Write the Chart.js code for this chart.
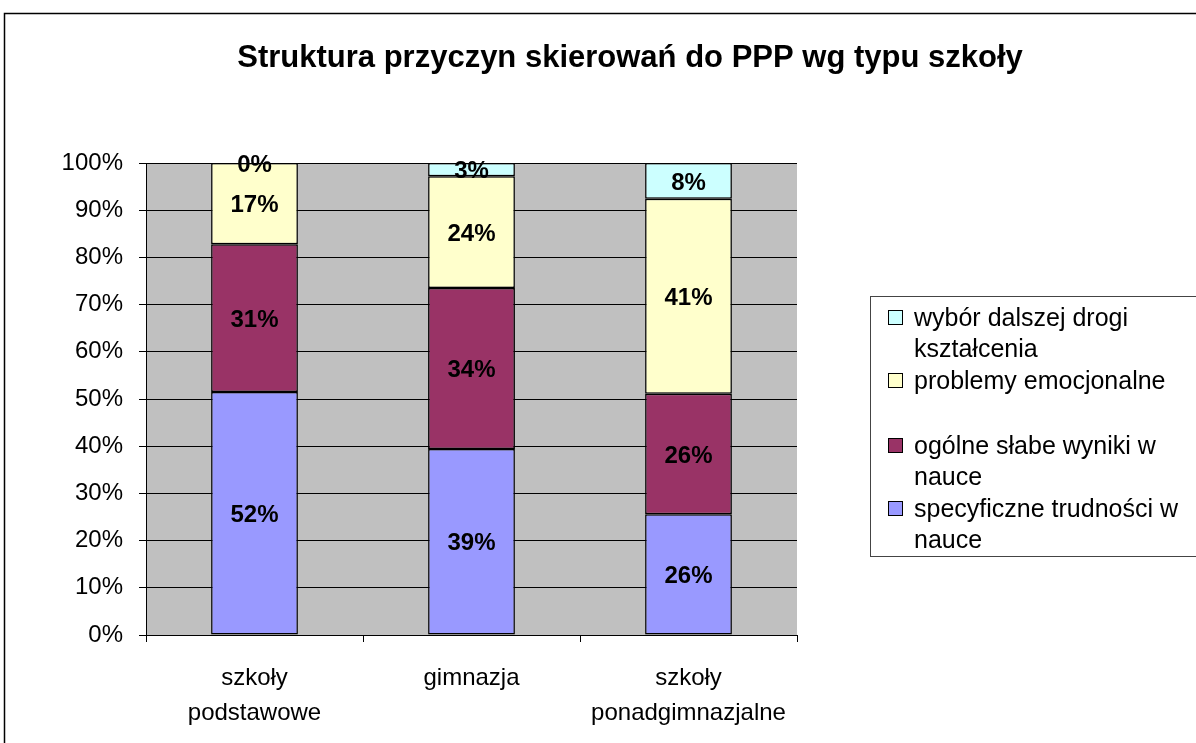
<!DOCTYPE html>
<html>
<head>
<meta charset="utf-8">
<script src="https://cdn.jsdelivr.net/npm/chart.js@4.4.1/dist/chart.umd.min.js"></script>
<style>
  html, body { margin: 0; padding: 0; background: #fff; }
  #wrap { width: 1196px; height: 743px; position: relative; }
</style>
</head>
<body>
<div id="wrap"><canvas id="chart" width="1196" height="743"></canvas></div>
<script>
var categories = [["szkoły", "podstawowe"], "gimnazja", ["szkoły", "ponadgimnazjalne"]];
var specyficzne = [51.5, 39.4, 25.6];
var ogolne = [31.3, 34.1, 25.5];
var emocjonalne = [17.2, 23.7, 41.3];
var wybor = [0, 2.8, 7.6];
var yTicks = [0, 10, 20, 30, 40, 50, 60, 70, 80, 90, 100];
var titleText = "Struktura przyczyn skierowań do PPP wg typu szkoły";

var FONT = "Arial, 'Liberation Sans', sans-serif";

// frame, title, value labels and the boxed legend
var decorPlugin = {
    id: 'decor',
    beforeDraw: function (chart) {
        var a = chart.chartArea;
        var ctx = chart.ctx;
        ctx.save();
        ctx.fillStyle = '#c0c0c0';
        ctx.fillRect(a.left, a.top, a.right - a.left, a.bottom - a.top);
        ctx.restore();
    },
    afterDatasetsDraw: function (chart) {
        var ctx = chart.ctx;
        ctx.save();
        ctx.fillStyle = '#000';
        ctx.font = 'bold 24px ' + FONT;
        ctx.textAlign = 'center';
        ctx.textBaseline = 'middle';
        chart.data.datasets.forEach(function (ds, i) {
            var meta = chart.getDatasetMeta(i);
            meta.data.forEach(function (bar, j) {
                var y = (bar.y + bar.base) / 2;
                ctx.fillText(Math.round(ds.data[j]) + '%', bar.x, y + 2);
            });
        });
        ctx.restore();
    },
    afterDraw: function (chart) {
        var ctx = chart.ctx;
        ctx.save();
        // outer frame
        ctx.strokeStyle = '#000';
        ctx.lineWidth = 1.5;
        ctx.strokeRect(4.5, 13.5, 1400, 1000);
        // title
        ctx.fillStyle = '#000';
        ctx.font = 'bold 31px ' + FONT;
        ctx.textAlign = 'center';
        ctx.textBaseline = 'middle';
        ctx.fillText(titleText, 630, 58);

        // legend
        ctx.lineWidth = 1;
        ctx.strokeStyle = '#444';
        ctx.fillStyle = '#fff';
        ctx.fillRect(870.5, 296.5, 400, 260);
        ctx.strokeRect(870.5, 296.5, 400, 260);
        var rows = [
            {ds: 3, lines: ["wybór dalszej drogi", "kształcenia"], y: 318},
            {ds: 2, lines: ["problemy emocjonalne"], y: 381},
            {ds: 1, lines: ["ogólne słabe wyniki w", "nauce"], y: 446},
            {ds: 0, lines: ["specyficzne trudności w", "nauce"], y: 509}
        ];
        ctx.font = '25px ' + FONT;
        ctx.textAlign = 'left';
        rows.forEach(function (r) {
            var ds = chart.data.datasets[r.ds];
            ctx.fillStyle = ds.backgroundColor;
            ctx.fillRect(888.5, r.y - 7.5, 14, 14);
            ctx.strokeStyle = '#000';
            ctx.strokeRect(888.5, r.y - 7.5, 14, 14);
            ctx.fillStyle = '#000';
            r.lines.forEach(function (t, k) {
                ctx.fillText(t, 914, r.y + 1 + k * 31.5);
            });
        });
        ctx.restore();
    }
};

var ctx = document.getElementById('chart').getContext('2d');
var myChart = new Chart(ctx, {
    type: 'bar',
    data: {
        labels: categories,
        datasets: [
            { label: "specyficzne trudności w nauce", data: specyficzne, backgroundColor: "#9999ff" },
            { label: "ogólne słabe wyniki w nauce", data: ogolne, backgroundColor: "#993366" },
            { label: "problemy emocjonalne", data: emocjonalne, backgroundColor: "#ffffcc" },
            { label: "wybór dalszej drogi kształcenia", data: wybor, backgroundColor: "#ccffff" }
        ]
    },
    options: {
        responsive: false,
        animation: false,
        layout: { padding: { left: 0, right: 399, top: 163, bottom: 0 } },
        datasets: {
            bar: {
                borderColor: '#000',
                borderWidth: 1.5,
                borderSkipped: false,
                barPercentage: 0.4,
                categoryPercentage: 1.0
            }
        },
        scales: {
            x: {
                stacked: true,
                afterFit: function (s) { s.height = 108; },
                grid: { drawOnChartArea: false, offset: true, tickLength: 7, color: '#000' },
                border: { color: '#000' },
                ticks: { color: '#000', font: { family: FONT, size: 24, lineHeight: 1.46 }, padding: 19, maxRotation: 0 }
            },
            y: {
                stacked: true,
                min: 0,
                max: 100,
                afterFit: function (s) { s.width = 146; },
                afterBuildTicks: function (s) { s.ticks = yTicks.map(function (v) { return { value: v }; }); },
                grid: { color: '#000', tickLength: 7 },
                border: { color: '#000' },
                ticks: {
                    color: '#000',
                    font: { family: FONT, size: 24 },
                    padding: 16,
                    callback: function (v) { return v + '%'; }
                }
            }
        },
        plugins: {
            legend: { display: false },
            tooltip: { enabled: false }
        }
    },
    plugins: [decorPlugin]
});
</script>
</body>
</html>
